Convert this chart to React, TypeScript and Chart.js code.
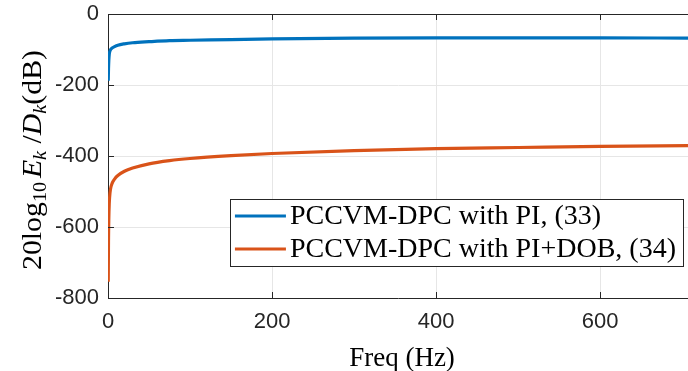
import React, { useEffect, useRef } from "react";
import { Chart, registerables } from "chart.js";

Chart.register(...registerables);

// ---- data ----
const freqHz = [0.3, 0.6, 1, 1.5, 2, 3, 5, 8, 12, 20, 30, 50, 75, 100, 150, 200, 300, 400, 500, 600, 707];
const piGainDb = [-188, -155, -130, -114, -107, -101, -96, -92, -88, -84, -81, -78, -75, -74, -72, -70, -68, -67, -67, -67, -68];
const piDobGainDb = [-754, -640, -575, -535, -515, -494, -477, -465, -455, -443, -434, -422, -413, -407, -399, -393, -385, -379, -376, -373, -371];
const seriesLabels = ["PCCVM-DPC with PI, (33)", "PCCVM-DPC with PI+DOB, (34)"];
const seriesColors = ["#0072BD", "#D95319"];
const xTickValues = [0, 200, 400, 600];
const yTickValues = [0, -200, -400, -600, -800];
const xRange = [0, 707];
const yRange = [-800, 0];
const xTitle = "Freq (Hz)";

const AXIS = "#262626";
const SERIF = "'Liberation Serif', 'Times New Roman', serif";
const SANS = "'Liberation Sans', Arial, sans-serif";

const decorPlugin = {
  id: "decor",
  afterDraw(chart: any) {
    const ctx = chart.ctx as CanvasRenderingContext2D;
    const { left, right, top, bottom } = chart.chartArea;
    const xs = chart.scales.x;
    const ys = chart.scales.y;
    ctx.save();
    // top border
    ctx.strokeStyle = AXIS;
    ctx.lineWidth = 1;
    ctx.beginPath();
    ctx.moveTo(left, Math.round(top) + 0.5);
    ctx.lineTo(right, Math.round(top) + 0.5);
    ctx.stroke();
    // inner tick marks
    ctx.beginPath();
    for (const v of xTickValues) {
      const px = Math.round(xs.getPixelForValue(v)) + 0.5;
      ctx.moveTo(px, bottom);
      ctx.lineTo(px, bottom - 6);
      ctx.moveTo(px, top);
      ctx.lineTo(px, top + 6);
    }
    for (const v of yTickValues) {
      const py = Math.round(ys.getPixelForValue(v)) + 0.5;
      ctx.moveTo(left, py);
      ctx.lineTo(left + 6, py);
    }
    ctx.stroke();

    // x title
    ctx.fillStyle = "#000";
    ctx.font = `27px ${SERIF}`;
    ctx.textAlign = "center";
    ctx.textBaseline = "alphabetic";
    ctx.fillText(xTitle, (left + right) / 2 + 4, 366);

    // y title (rotated, with sub/italics)
    const big = 28;
    const small = 19;
    const segs = [
      { t: "20log", it: false, s: big, dy: 0 },
      { t: "10", it: false, s: small, dy: 5 },
      { t: " ", it: false, s: big * 0.5, dy: 0 },
      { t: "E", it: true, s: big, dy: 0 },
      { t: "k", it: true, s: small, dy: 5 },
      { t: " /", it: false, s: big, dy: 0 },
      { t: "D", it: true, s: big, dy: 0 },
      { t: "k", it: true, s: small, dy: 5 },
      { t: "(dB)", it: false, s: big, dy: 0 },
    ];
    let total = 0;
    const widths: number[] = [];
    for (const sg of segs) {
      ctx.font = `${sg.it ? "italic " : ""}${sg.s}px ${SERIF}`;
      const w = ctx.measureText(sg.t).width;
      widths.push(w);
      total += w;
    }
    const targetLen = 220;
    const stretch = targetLen / total;
    ctx.save();
    ctx.translate(41, (top + bottom) / 2 + 4);
    ctx.rotate(-Math.PI / 2);
    ctx.scale(stretch, 1);
    ctx.textAlign = "left";
    let cx = -total / 2;
    segs.forEach((sg, i) => {
      ctx.font = `${sg.it ? "italic " : ""}${sg.s}px ${SERIF}`;
      ctx.fillText(sg.t, cx, sg.dy);
      cx += widths[i];
    });
    ctx.restore();

    // legend
    ctx.font = `28px ${SERIF}`;
    let maxW = 0;
    for (const l of seriesLabels) maxW = Math.max(maxW, ctx.measureText(l).width);
    const lineLen = 51;
    const boxW = 5 + lineLen + 4 + maxW + 7;
    const boxH = 67;
    const bx = right - 5 - boxW;
    const by = bottom - 32 - boxH;
    ctx.fillStyle = "#fff";
    ctx.fillRect(bx, by, boxW, boxH);
    ctx.strokeStyle = AXIS;
    ctx.lineWidth = 1;
    ctx.strokeRect(Math.round(bx) + 0.5, Math.round(by) + 0.5, Math.round(boxW), boxH);
    seriesLabels.forEach((l, i) => {
      const ry = by + 17 + i * 33;
      ctx.strokeStyle = seriesColors[i];
      ctx.lineWidth = 3;
      ctx.beginPath();
      ctx.moveTo(bx + 5, ry);
      ctx.lineTo(bx + 5 + lineLen, ry);
      ctx.stroke();
      ctx.fillStyle = "#000";
      ctx.textBaseline = "middle";
      ctx.textAlign = "left";
      ctx.fillText(l, bx + 5 + lineLen + 4, ry + 1);
    });
    ctx.restore();
  },
};

export default function App() {
  const ref = useRef<HTMLCanvasElement | null>(null);
  useEffect(() => {
    if (!ref.current) return;
    const chart = new Chart(ref.current, {
      type: "line",
      data: {
        datasets: [
          {
            label: seriesLabels[0],
            data: freqHz.map((f, i) => ({ x: f, y: piGainDb[i] })),
            borderColor: seriesColors[0],
            backgroundColor: seriesColors[0],
            borderWidth: 3.2,
            pointRadius: 0,
            cubicInterpolationMode: "monotone",
          },
          {
            label: seriesLabels[1],
            data: freqHz.map((f, i) => ({ x: f, y: piDobGainDb[i] })),
            borderColor: seriesColors[1],
            backgroundColor: seriesColors[1],
            borderWidth: 3.2,
            pointRadius: 0,
            cubicInterpolationMode: "monotone",
          },
        ],
      },
      options: {
        animation: false,
        responsive: false,
        layout: { padding: { top: 14, right: 0, left: 0, bottom: 0 } },
        plugins: { legend: { display: false }, tooltip: { enabled: false } },
        scales: {
          x: {
            type: "linear",
            min: xRange[0],
            max: xRange[1],
            afterBuildTicks: (s: any) => {
              s.ticks = xTickValues.map((v) => ({ value: v }));
            },
            afterFit: (s: any) => {
              s.height = 73;
              s.paddingLeft = 0;
              s.paddingRight = 0;
            },
            grid: { color: "#e6e6e6", drawTicks: false },
            border: { color: AXIS, width: 1 },
            ticks: { font: { family: SANS, size: 22 }, color: AXIS, padding: 11, maxRotation: 0 },
          },
          y: {
            type: "linear",
            min: yRange[0],
            max: yRange[1],
            afterBuildTicks: (s: any) => {
              s.ticks = yTickValues.map((v) => ({ value: v }));
            },
            afterFit: (s: any) => {
              s.width = 108;
              s.paddingTop = 0;
              s.paddingBottom = 0;
            },
            grid: { color: "#e6e6e6", drawTicks: false },
            border: { color: AXIS, width: 1 },
            ticks: { font: { family: SANS, size: 22 }, color: AXIS, padding: 9 },
          },
        },
      },
      plugins: [decorPlugin],
    } as any);
    return () => chart.destroy();
  }, []);
  return (
    <div style={{ position: "fixed", left: 0, top: 0, width: 688, height: 371, background: "#fff" }}>
      <canvas ref={ref} width={688} height={371} style={{ display: "block" }} />
    </div>
  );
}
